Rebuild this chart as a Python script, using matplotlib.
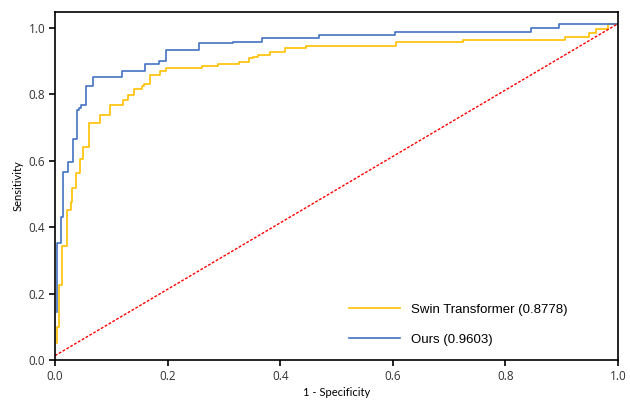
import matplotlib
matplotlib.use("Agg")
from matplotlib import pyplot as plt

# ROC step vertices (fpr at jump, tpr after jump)
swin_fpr = [0.003, 0.003, 0.0071, 0.013, 0.0208, 0.0279, 0.031, 0.038, 0.0444, 0.0492,
            0.061, 0.080, 0.098, 0.121, 0.130, 0.141, 0.154, 0.158, 0.169, 0.187,
            0.197, 0.261, 0.290, 0.326, 0.344, 0.351, 0.361, 0.382, 0.408, 0.446,
            0.606, 0.725, 0.905, 0.948, 0.960, 0.982, 1.0]
swin_tpr = [0.050, 0.098, 0.225, 0.343, 0.450, 0.475, 0.517, 0.562, 0.605, 0.642,
            0.713, 0.738, 0.767, 0.783, 0.797, 0.815, 0.825, 0.830, 0.857, 0.868,
            0.879, 0.886, 0.891, 0.897, 0.909, 0.913, 0.918, 0.927, 0.939, 0.946,
            0.956, 0.962, 0.973, 0.984, 0.995, 1.011, 1.011]

ours_fpr = [0.0036, 0.0036, 0.0107, 0.014, 0.0236, 0.0315, 0.039, 0.043, 0.047, 0.055,
            0.068, 0.119, 0.160, 0.185, 0.198, 0.255, 0.317, 0.367, 0.469, 0.603,
            0.846, 0.896, 1.0]
ours_tpr = [0.145, 0.351, 0.429, 0.567, 0.596, 0.665, 0.753, 0.758, 0.767, 0.825,
            0.850, 0.868, 0.892, 0.901, 0.934, 0.953, 0.958, 0.970, 0.979, 0.986,
            1.000, 1.012, 1.012]

chance_x = [0.0, 1.0]
chance_y = [0.013, 1.012]

labels = ["Swin Transformer (0.8778)", "Ours (0.9603)"]
xticks = [0.0, 0.2, 0.4, 0.6, 0.8, 1.0]
yticks = [0.0, 0.2, 0.4, 0.6, 0.8, 1.0]

fig = plt.figure(figsize=(6.3, 4.0), dpi=100)
ax = fig.add_axes([0.0873, 0.1, 0.8937, 0.87])

ax.plot(swin_fpr, swin_tpr, drawstyle="steps-post", color="#FFC000", lw=1.2, label=labels[0])
ax.plot(ours_fpr, ours_tpr, drawstyle="steps-post", color="#4472C4", lw=1.2, label=labels[1])
ax.plot(chance_x, chance_y, color="#FF0000", lw=1.0, linestyle=(0, (2, 1.2)))

ax.set_xlim(0, 1.0)
ax.set_ylim(0, 1.047)
ax.set_xticks(xticks)
ax.set_yticks(yticks)
ax.set_xticklabels([f"{t:.1f}" for t in xticks], fontfamily="Open Sans", fontsize=8.5, color="#333333")
ax.set_yticklabels([f"{t:.1f}" for t in yticks], fontfamily="Open Sans", fontsize=8.5, color="#333333")
ax.tick_params(direction="out", length=4, width=1.2, color="black", pad=3)
for s in ax.spines.values():
    s.set_color("black")
    s.set_linewidth(1.2)

fig.text(0.535, 0.018, "1 - Specificity", ha="center", va="center", fontfamily="Lato", fontsize=8)
fig.text(0.028, 0.535, "Sensitivity", ha="center", va="center", rotation=90, fontfamily="Lato", fontsize=8)

ax.legend(loc="lower left", bbox_to_anchor=(0.554, 0.135), bbox_transform=fig.transFigure,
          frameon=False, prop={"family": "Liberation Sans", "size": 9.5},
          handlelength=3.9, handletextpad=0.8, labelspacing=1.35, borderpad=0, borderaxespad=0)

fig.savefig("out.png", dpi=100)
